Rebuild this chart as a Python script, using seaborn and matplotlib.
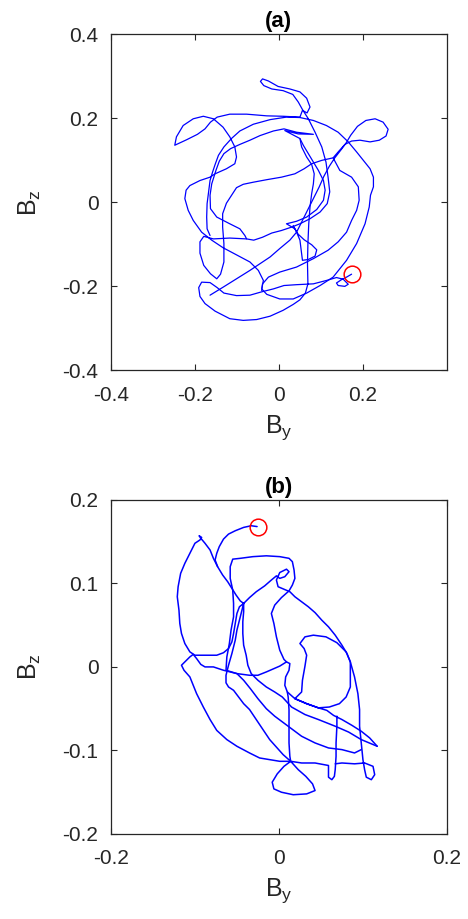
import numpy as np
import pandas as pd
import matplotlib
matplotlib.use("Agg")
import matplotlib.pyplot as plt
import seaborn as sns

# Panel (a): B_y / B_z trajectory, split into strokes
a1_by = [-0.164, -0.133, -0.101, -0.069, -0.045, -0.021, 0.002, 0.026, 0.042, 0.054, 0.066, 0.078, 0.086, 0.096,
         0.107, 0.120, 0.133, 0.147, 0.159, 0.171, 0.187, 0.207, 0.229, 0.248, 0.260, 0.255, 0.239, 0.217, 0.193,
         0.173, 0.157, 0.141, 0.129, 0.145, 0.173, 0.189, 0.191, 0.185, 0.173, 0.161, 0.141, 0.117, 0.082, 0.042,
         0.002, -0.025, -0.039, -0.041]
a1_bz = [-0.221, -0.202, -0.182, -0.162, -0.146, -0.130, -0.110, -0.090, -0.071, -0.047, -0.023, 0.001, 0.017, 0.037,
         0.062, 0.086, 0.106, 0.124, 0.140, 0.160, 0.181, 0.195, 0.199, 0.191, 0.174, 0.158, 0.148, 0.144, 0.148,
         0.146, 0.138, 0.120, 0.106, 0.076, 0.060, 0.037, 0.005, -0.019, -0.043, -0.071, -0.094, -0.114, -0.134,
         -0.154, -0.166, -0.178, -0.194, -0.210]

a2_by = [0.129, 0.102, 0.078, 0.060, 0.038, 0.006, -0.029, -0.061, -0.085, -0.101, -0.110, -0.125, -0.134, -0.134,
         -0.131, -0.131, -0.139, -0.148, -0.163, -0.179, -0.188, -0.188, -0.179,
         -0.156, -0.117, -0.077, -0.060, -0.039, -0.017, 0.006, 0.030, 0.050, 0.074, 0.098, 0.115, 0.121, 0.117,
         0.112, 0.102, 0.086, 0.070, 0.056,
         0.046, 0.033, 0.010, -0.017, -0.036, -0.044, -0.039, -0.025, -0.002, 0.026, 0.050, 0.066, 0.074, 0.067,
         0.056, 0.050,
         0.010, -0.029, -0.077, -0.117, -0.147, -0.163, -0.176, -0.194, -0.220, -0.248,
         -0.244, -0.228, -0.204, -0.180, -0.156, -0.133, -0.117, -0.105, -0.101, -0.105, -0.125, -0.152, -0.164,
         -0.188, -0.212, -0.221, -0.224, -0.216, -0.204, -0.184, -0.160, -0.133, -0.101, -0.069, -0.049, -0.037,
         -0.041, -0.029, 0.002, 0.034, 0.066, 0.098, 0.129, 0.161, 0.185, 0.205, 0.215, 0.218, 0.225, 0.225,
         0.217, 0.201, 0.185, 0.165, 0.141, 0.113, 0.082, 0.050,
         0.018, -0.021, -0.061, -0.093, -0.113, -0.131, -0.144, -0.152, -0.158, -0.164, -0.167, -0.171, -0.172,
         -0.171, -0.164]
a2_bz = [0.106, 0.100, 0.092, 0.080, 0.068, 0.060, 0.054, 0.048, 0.043, 0.035, 0.021, -0.002, -0.027, -0.059,
         -0.098, -0.142, -0.171, -0.182, -0.170, -0.150, -0.121, -0.094, -0.081,
         -0.087, -0.085, -0.087, -0.090, -0.083, -0.073, -0.067, -0.059, -0.051, -0.039, -0.023, -0.003, 0.025,
         0.060, 0.096, 0.132, 0.167, 0.199, 0.221,
         0.239, 0.257, 0.266, 0.270, 0.278, 0.288, 0.294, 0.289, 0.276, 0.270, 0.263, 0.248, 0.227, 0.213, 0.219,
         0.203,
         0.205, 0.206, 0.210, 0.210, 0.203, 0.191, 0.175, 0.162, 0.149, 0.136,
         0.156, 0.183, 0.199, 0.205, 0.199, 0.179, 0.156, 0.132, 0.108, 0.092, 0.080, 0.068, 0.060, 0.052, 0.040,
         0.029, 0.009, -0.019, -0.043, -0.071, -0.090, -0.108, -0.125, -0.142, -0.162, -0.186, -0.206, -0.219,
         -0.230, -0.230, -0.216, -0.198, -0.178, -0.138, -0.098, -0.051, -0.011, 0.017, 0.037, 0.060, 0.080,
         0.100, 0.120, 0.144, 0.167, 0.183, 0.195, 0.202,
         0.203, 0.197, 0.186, 0.170, 0.152, 0.132, 0.112, 0.090, 0.072, 0.052, 0.029, -0.003, -0.035, -0.063,
         -0.079]

a3_by = [-0.077, -0.081, -0.093, -0.117, -0.148, -0.163, -0.164, -0.160, -0.150, -0.142, -0.131, -0.115, -0.093,
         -0.069, -0.045, -0.013, 0.012, 0.042, 0.082, 0.046, 0.014,
         0.050, 0.058, 0.070, 0.082, 0.094, 0.106, 0.110, 0.106, 0.090, 0.066, 0.042, 0.018,
         0.038, 0.046, 0.060, 0.078, 0.090, 0.086, 0.070, 0.056, 0.053, 0.050, 0.042, 0.034]
a3_bz = [-0.087, -0.079, -0.063, -0.051, -0.035, -0.015, 0.017, 0.044, 0.076, 0.098, 0.116, 0.128, 0.138, 0.148,
         0.159, 0.170, 0.175, 0.167, 0.162, 0.163, 0.171,
         0.152, 0.136, 0.116, 0.096, 0.076, 0.052, 0.029, 0.005, -0.017, -0.035, -0.045, -0.051,
         -0.063, -0.076, -0.089, -0.101, -0.113, -0.128, -0.136, -0.138, -0.114, -0.090, -0.071, -0.055]

a4_by = [0.050, 0.054, 0.066, 0.078, 0.084, 0.082, 0.078, 0.074, 0.071, 0.069, 0.068, 0.069, 0.063, 0.050, 0.034,
         0.010, -0.021, -0.053, -0.085, -0.117, -0.152, -0.176, -0.188, -0.191, -0.184, -0.164, -0.147, -0.131,
         -0.101, -0.069, -0.041, -0.013, 0.012, 0.042, 0.082, 0.113, 0.137, 0.153, 0.165, 0.157, 0.141, 0.137,
         0.149, 0.161, 0.173]
a4_bz = [0.152, 0.132, 0.108, 0.090, 0.068, 0.044, 0.021, -0.011, -0.051, -0.098, -0.146, -0.194, -0.216, -0.232,
         -0.243, -0.257, -0.271, -0.279, -0.281, -0.277, -0.259, -0.241, -0.224, -0.203, -0.190, -0.191, -0.203,
         -0.216, -0.222, -0.221, -0.213, -0.206, -0.198, -0.196, -0.194, -0.186, -0.179, -0.183, -0.195, -0.200,
         -0.198, -0.192, -0.184, -0.178, -0.171]

# Panel (b)
b1_by = [0.117, 0.108, 0.098, 0.087, 0.075, 0.065, 0.057, 0.047, 0.033, 0.019,
         0.027, 0.028, 0.031, 0.033, 0.030, 0.025, 0.031, 0.041, 0.056, 0.069, 0.080, 0.085, 0.085, 0.085, 0.080,
         0.072, 0.060, 0.047, 0.033, 0.019,
         0.010, 0.007, 0.008, 0.012, 0.013, 0.009, 0.001, -0.015, -0.025, -0.035, -0.050, -0.066, -0.078, -0.088,
         -0.093, -0.098, -0.102, -0.106, -0.112, -0.116,
         -0.113, -0.106, -0.098, -0.090, -0.082, -0.074, -0.062, -0.050, -0.035, -0.023, -0.011, 0.001, 0.014,
         0.023, 0.032, 0.040, 0.043, 0.033, 0.017, 0.003, -0.006, -0.008, -0.002, 0.006, 0.014,
         0.027, 0.043, 0.059,
         0.059, 0.059, 0.063, 0.066, 0.067, 0.068, 0.068, 0.069, 0.069]
b1_bz = [-0.095, -0.085, -0.077, -0.070, -0.063, -0.058, -0.052, -0.049, -0.044, -0.038,
         -0.030, -0.016, 0.001, 0.014, 0.022, 0.028, 0.036, 0.038, 0.036, 0.029, 0.018, 0.006, -0.010, -0.024,
         -0.036, -0.044, -0.048, -0.049, -0.044, -0.038,
         -0.030, -0.022, -0.012, -0.004, 0.004, 0.006, 0.001, -0.006, -0.010, -0.010, -0.008, -0.004, 0.000,
         0.000, 0.003, 0.010, 0.015, 0.012, 0.006, 0.002,
         -0.004, -0.012, -0.032, -0.048, -0.063, -0.076, -0.087, -0.095, -0.103, -0.109, -0.111, -0.113, -0.113,
         -0.123, -0.131, -0.140, -0.148, -0.152, -0.153, -0.150, -0.146, -0.138, -0.128, -0.119, -0.113,
         -0.115, -0.115, -0.118,
         -0.123, -0.132, -0.135, -0.131, -0.123, -0.107, -0.091, -0.071, -0.059]

b2_by = [0.067, 0.075, 0.090, 0.102, 0.112, 0.114, 0.110, 0.104, 0.102,
         0.100, 0.098, 0.096, 0.096, 0.094, 0.090, 0.085,
         0.081, 0.075, 0.067, 0.059, 0.051, 0.043, 0.035, 0.027, 0.019, 0.013, 0.006, -0.001, -0.003,
         0.001, 0.009, 0.012, 0.007, 0.001, -0.003,
         -0.009, -0.017, -0.027, -0.035, -0.042,
         -0.046, -0.051, -0.056, -0.061, -0.067, -0.073, -0.078, -0.082, -0.088, -0.093, -0.095, -0.092, -0.094,
         -0.100, -0.106, -0.112, -0.117, -0.120, -0.121, -0.119, -0.118, -0.116, -0.112, -0.106, -0.100, -0.086,
         -0.074, -0.066, -0.060, -0.056, -0.054, -0.052, -0.050, -0.047, -0.042,
         -0.046, -0.050, -0.052, -0.056, -0.060, -0.063, -0.063, -0.060, -0.054, -0.048, -0.042, -0.035, -0.027,
         -0.019, -0.011, -0.003, 0.005, 0.014,
         0.013, 0.012, 0.012, 0.012, 0.011, 0.010]
b2_bz = [-0.116, -0.115, -0.116, -0.115, -0.119, -0.129, -0.135, -0.132, -0.123,
         -0.111, -0.091, -0.071, -0.051, -0.032, -0.012, 0.006,
         0.016, 0.026, 0.038, 0.048, 0.056, 0.065, 0.072, 0.078, 0.084, 0.090, 0.093, 0.096, 0.104,
         0.113, 0.117, 0.114, 0.108, 0.106, 0.109,
         0.104, 0.097, 0.090, 0.083, 0.076,
         0.079, 0.086, 0.094, 0.102, 0.110, 0.120, 0.130, 0.140, 0.148, 0.154, 0.157, 0.155, 0.152,
         0.148, 0.136, 0.124, 0.112, 0.096, 0.084, 0.068, 0.052, 0.040, 0.028, 0.018, 0.014, 0.014, 0.014, 0.017,
         0.022, 0.030, 0.040, 0.052, 0.064, 0.072, 0.076,
         0.060, 0.044, 0.032, 0.016, 0.002, -0.010, -0.019, -0.024, -0.028, -0.036, -0.044, -0.051, -0.063,
         -0.075, -0.087, -0.096, -0.105, -0.113,
         -0.107, -0.091, -0.071, -0.051, -0.036, -0.030]

b3_by = [-0.042, -0.042, -0.043, -0.043, -0.042, -0.039, -0.037, -0.033, -0.025, -0.015, -0.005, 0.004, 0.015,
         0.031, 0.047, 0.067, 0.083, 0.098, 0.117]
b3_bz = [0.076, 0.066, 0.054, 0.040, 0.026, 0.014, 0.002, -0.008, -0.016, -0.024, -0.030, -0.036, -0.048, -0.057,
         -0.063, -0.071, -0.078, -0.087, -0.095]

b4_by = [0.098, 0.090, 0.075, 0.059, 0.043, 0.027, 0.011, -0.005, -0.015, -0.025, -0.034, -0.042, -0.050, -0.063,
         -0.062, -0.059, -0.057, -0.054, -0.054, -0.055, -0.058, -0.058, -0.055, -0.046, -0.031, -0.015, 0.001,
         0.012, 0.016, 0.018, 0.019, 0.016, 0.012, 0.003, -0.005, -0.009, -0.006, -0.003, 0.001, 0.006, 0.009]
b4_bz = [-0.099, -0.103, -0.099, -0.097, -0.091, -0.083, -0.071, -0.059, -0.050, -0.038, -0.026, -0.016, -0.008,
         -0.004, 0.012, 0.028, 0.044, 0.060, 0.076, 0.092, 0.106, 0.120, 0.129, 0.130, 0.132, 0.133, 0.132, 0.130,
         0.126, 0.116, 0.106, 0.098, 0.091, 0.083, 0.074, 0.064, 0.052, 0.036, 0.020, 0.009, 0.006]

b5_by = [-0.073, -0.076, -0.074, -0.071, -0.066, -0.060, -0.052, -0.042, -0.033, -0.026]
b5_bz = [0.120, 0.128, 0.136, 0.144, 0.153, 0.159, 0.163, 0.167, 0.169, 0.168]

end_a = (0.173, -0.171)
end_b = (-0.025, 0.168)


def strokes(*pairs):
    frames = []
    for i, (x, y) in enumerate(pairs):
        frames.append(pd.DataFrame({'By': x, 'Bz': y, 'stroke': i}))
    return pd.concat(frames, ignore_index=True)


df_a = strokes((a1_by, a1_bz), (a2_by, a2_bz), (a3_by, a3_bz), (a4_by, a4_bz))
df_b = strokes((b1_by, b1_bz), (b2_by, b2_bz), (b3_by, b3_bz), (b4_by, b4_bz), (b5_by, b5_bz))

sns.set_style("ticks")
plt.rcParams['font.family'] = ['Liberation Sans', 'DejaVu Sans']
plt.rcParams['axes.unicode_minus'] = False

fig = plt.figure(figsize=(4.68, 9.19), dpi=100)
ax_a = fig.add_axes([0.237, 0.597, 0.718, 0.3656])
ax_b = fig.add_axes([0.237, 0.0925, 0.718, 0.3636])

grey = '#262626'
panels = [
    (ax_a, df_a, end_a, '(a)', (-0.4, 0.4), [-0.4, -0.2, 0, 0.2], [-0.4, -0.2, 0, 0.2, 0.4], 0.9),
    (ax_b, df_b, end_b, '(b)', (-0.2, 0.2), [-0.2, 0, 0.2], [-0.2, -0.1, 0, 0.1, 0.2], 1.1),
]
for ax, df, end, title, lim, xt, yt, lw in panels:
    sns.lineplot(data=df, x='By', y='Bz', units='stroke', sort=False, estimator=None,
                 color='#0000ff', lw=lw, ax=ax)
    ax.plot(*end, 'o', mfc='none', mec='#ff0000', ms=12, mew=1.1)
    ax.set_xlim(lim)
    ax.set_ylim(lim)
    ax.set_xticks(xt)
    ax.set_yticks(yt)
    ax.set_xticklabels([f'{v:g}' for v in xt])
    ax.set_yticklabels([f'{v:g}' for v in yt])
    ax.tick_params(direction='in', top=True, right=True, length=4, width=0.8,
                   labelsize=15, colors=grey)
    ax.tick_params(axis='x', pad=11)
    ax.tick_params(axis='y', pad=9)
    for s in ax.spines.values():
        s.set_visible(True)
        s.set_color(grey)
        s.set_linewidth(0.9)
    ax.set_xlabel(r'$\mathregular{B_y}$', fontsize=18, color=grey, labelpad=6)
    ax.set_ylabel(r'$\mathregular{B_z}$', fontsize=18, color=grey, labelpad=14)
    ax.set_title(title, fontsize=16, fontweight='bold', color='black', pad=5)

fig.savefig('out.png', dpi=100, facecolor='white')
